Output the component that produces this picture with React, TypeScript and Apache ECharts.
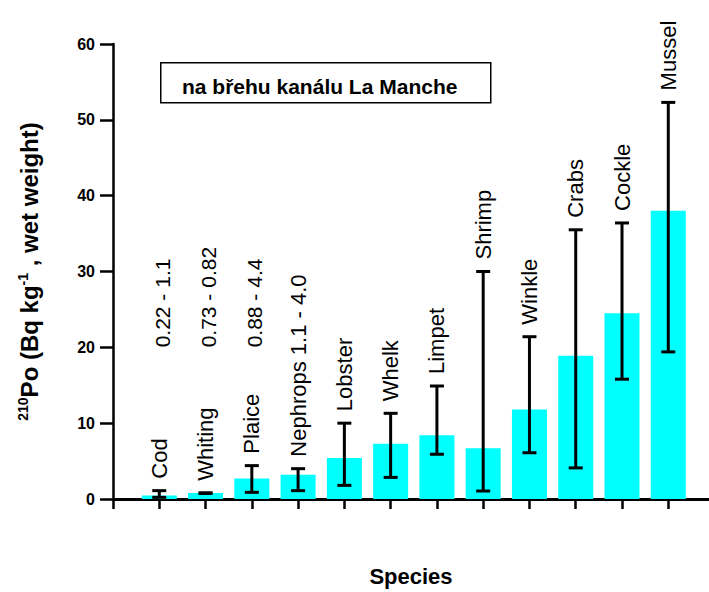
import React, { useEffect, useRef } from "react";
import * as echarts from "echarts";

const CATEGORIES = ["Cod", "Whiting", "Plaice", "Nephrops", "Lobster", "Whelk", "Limpet", "Shrimp", "Winkle", "Crabs", "Cockle", "Mussel"];
const NAME_LABELS = ["Cod", "Whiting", "Plaice", "Nephrops 1.1 - 4.0", "Lobster", "Whelk", "Limpet", "Shrimp", "Winkle", "Crabs", "Cockle", "Mussel"];
const MEANS = [0.45, 0.8, 2.7, 3.2, 5.4, 7.3, 8.4, 6.7, 11.8, 18.9, 24.5, 38.0];
const LOWS = [0.22, 0.73, 0.88, 1.1, 1.8, 2.85, 5.9, 1.05, 6.1, 4.1, 15.8, 19.4];
const HIGHS = [1.1, 0.82, 4.4, 4.0, 10.0, 11.3, 14.9, 30.0, 21.4, 35.5, 36.4, 52.3];
const RANGE_LABELS = ["0.22 - 1.1", "0.73 - 0.82", "0.88 - 4.4"];
const RANGE_LABEL_BASE = 20;
const Y_TICKS = [0, 10, 20, 30, 40, 50, 60];
const BOX_TEXT = "na břehu kanálu La Manche";

const FONT = "'Liberation Sans', Arial, Helvetica, sans-serif";

export default function App() {
  const ref = useRef<HTMLDivElement>(null);

  useEffect(() => {
    const chart = echarts.init(ref.current as HTMLDivElement, null, { renderer: "svg" });
    const xs = CATEGORIES.map((_, i) => i + 1);

    chart.setOption({
      animation: false,
      backgroundColor: "#ffffff",
      grid: { left: 113, right: 0, top: 44, bottom: 92, containLabel: false },
      xAxis: {
        type: "value",
        min: 0,
        max: 12.88,
        interval: 1,
        axisLine: { show: true, lineStyle: { color: "#000", width: 3 } },
        axisTick: {
          show: true,
          length: 10,
          customValues: [0, ...xs],
          lineStyle: { color: "#000", width: 2.5 },
        },
        axisLabel: { show: false },
        splitLine: { show: false },
        name: "Species",
        nameLocation: "middle",
        nameGap: 66,
        nameTextStyle: { color: "#000", fontFamily: FONT, fontWeight: "bold", fontSize: 22 },
      },
      yAxis: {
        type: "value",
        min: Y_TICKS[0],
        max: Y_TICKS[Y_TICKS.length - 1],
        interval: 10,
        axisLine: { show: true, lineStyle: { color: "#000", width: 2.5 } },
        axisTick: { show: true, length: 13, lineStyle: { color: "#000", width: 2.5 } },
        axisLabel: { color: "#000", fontFamily: FONT, fontWeight: "bold", fontSize: 16, margin: 18 },
        splitLine: { show: false },
        name: "{sup|210}{b|Po (Bq kg}{sup|-1}{b| , wet weight)}",
        nameLocation: "middle",
        nameRotate: 90,
        nameGap: 71,
        nameTextStyle: {
          color: "#000",
          fontFamily: FONT,
          fontWeight: "bold",
          fontSize: 24,
          rich: {
            b: { fontFamily: FONT, fontWeight: "bold", fontSize: 24, color: "#000", lineHeight: 26 },
            sup: { fontFamily: FONT, fontWeight: "bold", fontSize: 14, color: "#000", verticalAlign: "top", lineHeight: 26 },
          },
        },
      },
      series: [
        {
          type: "bar",
          barWidth: 35,
          itemStyle: { color: "#00FFFF" },
          data: xs.map((x, i) => [x, MEANS[i]]),
          z: 2,
        },
        {
          type: "custom",
          z: 3,
          data: xs.map((x, i) => [x, LOWS[i], HIGHS[i]]),
          renderItem: (params: any, api: any) => {
            const x = api.value(0);
            const lo = api.coord([x, api.value(1)]);
            const hi = api.coord([x, api.value(2)]);
            const half = 7;
            const st = { stroke: "#000", lineWidth: 3 };
            return {
              type: "group",
              children: [
                { type: "line", shape: { x1: lo[0], y1: lo[1], x2: hi[0], y2: hi[1] }, style: st },
                { type: "line", shape: { x1: hi[0] - half, y1: hi[1], x2: hi[0] + half, y2: hi[1] }, style: st },
                { type: "line", shape: { x1: lo[0] - half, y1: lo[1], x2: lo[0] + half, y2: lo[1] }, style: st },
              ],
            };
          },
        },
        {
          type: "custom",
          z: 4,
          data: xs.map((x, i) => [x, HIGHS[i]]),
          renderItem: (params: any, api: any) => {
            const p = api.coord([api.value(0), api.value(1)]);
            return {
              type: "text",
              x: p[0],
              y: p[1] - 12,
              rotation: Math.PI / 2,
              style: {
                text: NAME_LABELS[params.dataIndex],
                x: 0,
                y: 0,
                align: "left",
                verticalAlign: "middle",
                fontFamily: FONT,
                fontSize: 22,
                fill: "#000",
              },
            };
          },
        },
        {
          type: "custom",
          z: 4,
          data: RANGE_LABELS.map((_, i) => [xs[i], RANGE_LABEL_BASE]),
          renderItem: (params: any, api: any) => {
            const p = api.coord([api.value(0), api.value(1)]);
            return {
              type: "text",
              x: p[0] + 3,
              y: p[1],
              rotation: Math.PI / 2,
              style: {
                text: RANGE_LABELS[params.dataIndex],
                x: 0,
                y: 0,
                align: "left",
                verticalAlign: "middle",
                fontFamily: FONT,
                fontSize: 21,
                fill: "#000",
              },
            };
          },
        },
      ],
      graphic: [
        {
          type: "rect",
          left: 160,
          top: 62,
          shape: { width: 330, height: 40 },
          style: { fill: "#fff", stroke: "#000", lineWidth: 1.5 },
        },
        {
          type: "text",
          x: 182,
          y: 86,
          style: {
            text: BOX_TEXT,
            fontFamily: FONT,
            fontWeight: "bold",
            fontSize: 21,
            fill: "#000",
            align: "left",
            verticalAlign: "middle",
          },
        },
      ],
    });

    return () => chart.dispose();
  }, []);

  return (
    <div
      ref={ref}
      style={{ position: "fixed", left: 0, top: 0, width: 709, height: 592 }}
    />
  );
}
